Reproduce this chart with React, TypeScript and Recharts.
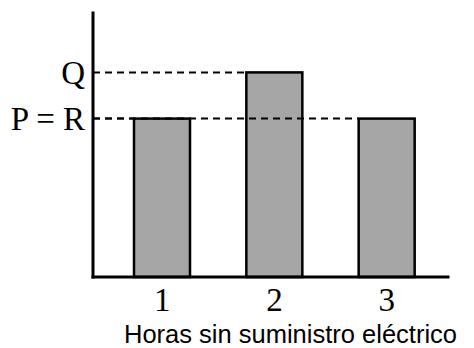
import React from 'react';
import { BarChart, Bar, XAxis, YAxis } from 'recharts';

const categories = ['1', '2', '3'];
const values = [6, 7.75, 6];
const yTickValues = [6, 7.75];
const yTickLabels = ['P = R', 'Q'];
const xAxisTitle = 'Horas sin suministro eléctrico';

const data = categories.map((c, i) => ({ hora: c, valor: values[i] }));

const MARGIN = { top: 13, right: 26, left: 0, bottom: 0 };
const Y_AXIS_WIDTH = 93;
const PLOT_LEFT = MARGIN.left + Y_AXIS_WIDTH;

const BarWithGuide = (props: any) => {
  const { x, y, width, height } = props;
  return (
    <g>
      <line
        x1={PLOT_LEFT}
        y1={y}
        x2={x}
        y2={y}
        stroke="#000"
        strokeWidth={2}
        strokeDasharray="7 5"
      />
      <rect
        x={x}
        y={y}
        width={width}
        height={height}
        fill="#a6a6a6"
        stroke="#000"
        strokeWidth={2.5}
      />
    </g>
  );
};

const XTitle = (props: any) => {
  const vb = props.viewBox;
  return (
    <text
      x={vb.x + vb.width / 2 + 20}
      y={vb.y + 66}
      textAnchor="middle"
      fontFamily="'Liberation Sans', Arial, Helvetica, sans-serif"
      fontSize={25.5}
      fill="#000"
    >
      {xAxisTitle}
    </text>
  );
};

const serif = "'Liberation Serif', 'Times New Roman', serif";

export default function App() {
  return (
    <div style={{ position: 'absolute', left: 0, top: 0, background: '#fff' }}>
      <BarChart width={474} height={348} data={data} margin={MARGIN}>
        <XAxis
          dataKey="hora"
          height={71}
          padding={{ left: 13, right: 5 }}
          axisLine={{ stroke: '#000', strokeWidth: 3, strokeLinecap: 'square' }}
          tickLine={false}
          tickSize={0}
          tickMargin={11}
          tick={{ fill: '#000', fontSize: 33, fontFamily: serif }}
          label={{ content: XTitle }}
        />
        <YAxis
          width={Y_AXIS_WIDTH}
          domain={[0, 10]}
          ticks={yTickValues}
          interval={0}
          tickFormatter={(v: number) => yTickLabels[yTickValues.indexOf(v)]}
          axisLine={{ stroke: '#000', strokeWidth: 3, strokeLinecap: 'square' }}
          tickLine={false}
          tickSize={0}
          tickMargin={8}
          tick={{ fill: '#000', fontSize: 33, fontFamily: serif }}
        />
        <Bar dataKey="valor" barSize={56} shape={BarWithGuide} isAnimationActive={false} />
      </BarChart>
    </div>
  );
}
